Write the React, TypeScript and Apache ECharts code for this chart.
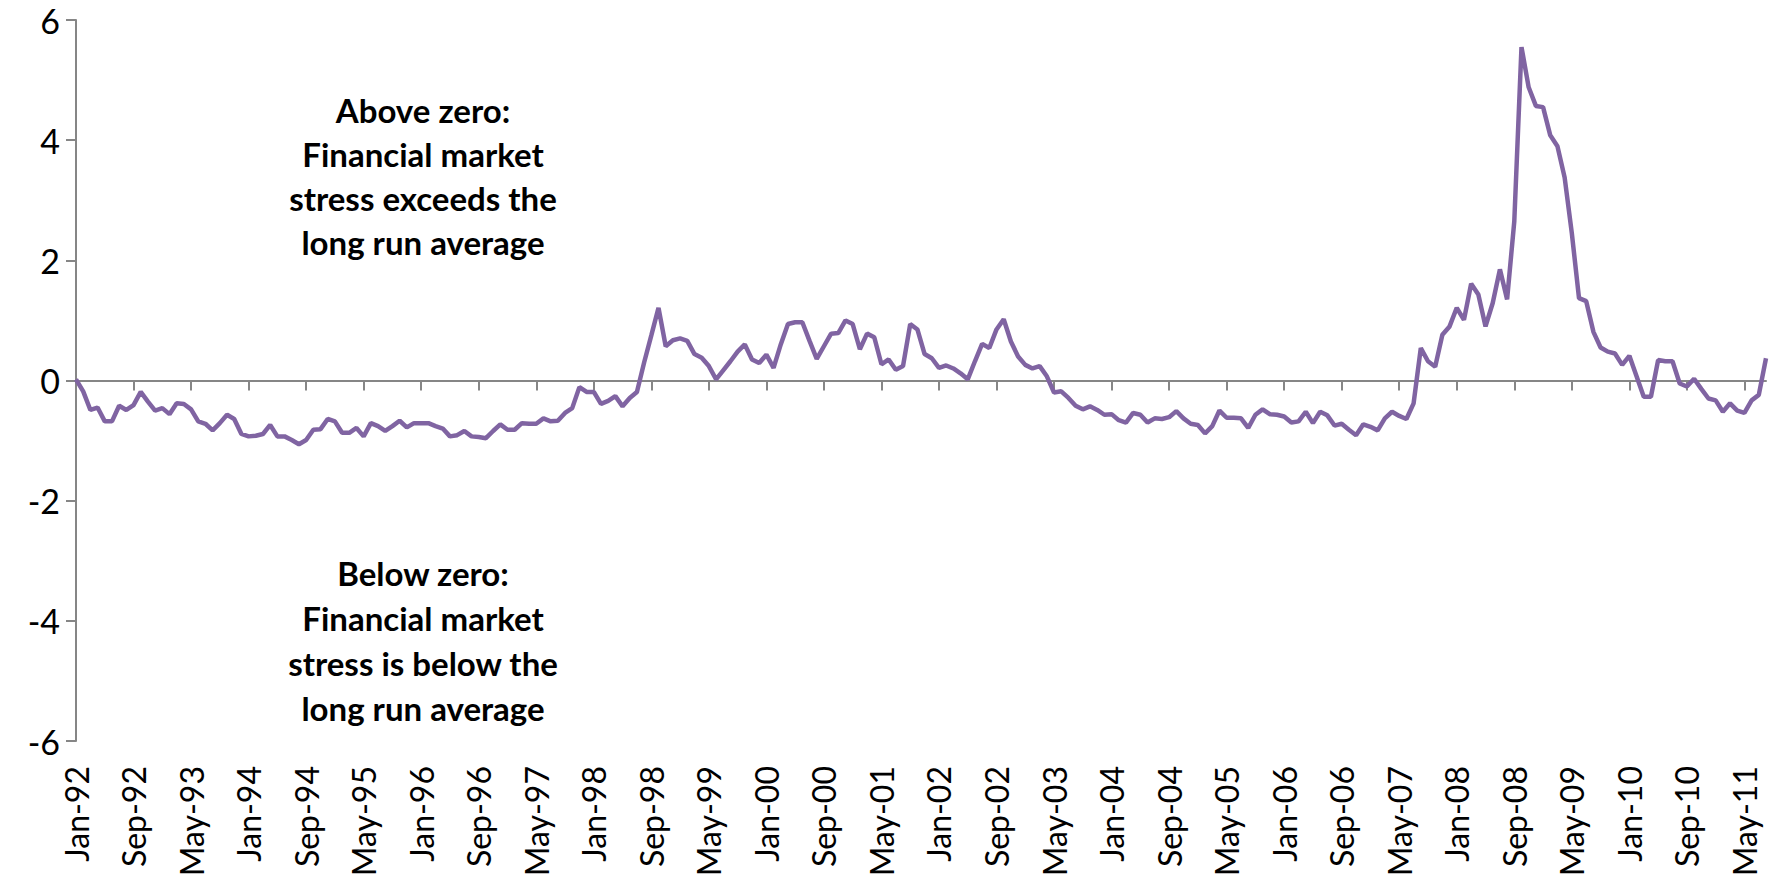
import React, { useEffect, useRef } from "react";
import * as echarts from "echarts";

// Monthly categories Jan-92 .. Aug-11
const MONTH_NAMES = ["Jan", "Feb", "Mar", "Apr", "May", "Jun", "Jul", "Aug", "Sep", "Oct", "Nov", "Dec"];
const START_YEAR = 1992;
const MONTH_COUNT = 236;

// Financial stress index values
const stress1992to1995 = [
  0.02, -0.18, -0.49, -0.45, -0.68, -0.68, -0.42, -0.49, -0.41, -0.19, -0.35, -0.5,
  -0.46, -0.56, -0.38, -0.39, -0.48, -0.68, -0.72, -0.83, -0.71, -0.57, -0.64, -0.89,
  -0.93, -0.92, -0.89, -0.74, -0.93, -0.93, -0.99, -1.06, -0.99, -0.82, -0.81, -0.64,
  -0.68, -0.87, -0.87, -0.79, -0.93, -0.71, -0.76, -0.84, -0.76, -0.67, -0.78, -0.71,
];
const stress1996to1999 = [
  -0.71, -0.71, -0.76, -0.8, -0.93, -0.91, -0.84, -0.93, -0.94, -0.96, -0.84, -0.73,
  -0.82, -0.82, -0.71, -0.72, -0.72, -0.63, -0.68, -0.67, -0.54, -0.46, -0.11, -0.19,
  -0.19, -0.39, -0.34, -0.26, -0.43, -0.29, -0.19, 0.3, 0.75, 1.21, 0.57, 0.67,
  0.7, 0.66, 0.44, 0.38, 0.24, 0.02, 0.17, 0.32, 0.48, 0.6, 0.35, 0.29,
];
const stress2000to2003 = [
  0.43, 0.21, 0.6, 0.94, 0.97, 0.97, 0.66, 0.36, 0.57, 0.78, 0.79, 1.0,
  0.94, 0.52, 0.78, 0.72, 0.27, 0.35, 0.18, 0.24, 0.94, 0.85, 0.44, 0.37,
  0.21, 0.25, 0.2, 0.12, 0.02, 0.32, 0.61, 0.54, 0.85, 1.02, 0.65, 0.4,
  0.26, 0.2, 0.24, 0.07, -0.2, -0.18, -0.29, -0.42, -0.48, -0.43, -0.49, -0.57,
];
const stress2004to2007 = [
  -0.56, -0.66, -0.7, -0.54, -0.57, -0.7, -0.63, -0.64, -0.61, -0.51, -0.63, -0.72,
  -0.74, -0.88, -0.76, -0.5, -0.62, -0.62, -0.63, -0.79, -0.57, -0.48, -0.56, -0.57,
  -0.6, -0.7, -0.68, -0.52, -0.71, -0.52, -0.58, -0.75, -0.72, -0.82, -0.91, -0.73,
  -0.77, -0.83, -0.63, -0.52, -0.59, -0.64, -0.38, 0.54, 0.32, 0.23, 0.76, 0.9,
];
const stress2008to2011 = [
  1.21, 1.01, 1.61, 1.43, 0.9, 1.29, 1.85, 1.35, 2.65, 5.55, 4.88, 4.57,
  4.55, 4.08, 3.9, 3.38, 2.45, 1.37, 1.32, 0.81, 0.55, 0.48, 0.45, 0.26,
  0.41, 0.07, -0.27, -0.27, 0.34, 0.32, 0.32, -0.05, -0.1, 0.03, -0.14, -0.3,
  -0.33, -0.52, -0.38, -0.5, -0.54, -0.33, -0.24, 0.37,
];

const stressValues = [
  ...stress1992to1995,
  ...stress1996to1999,
  ...stress2000to2003,
  ...stress2004to2007,
  ...stress2008to2011,
];

const categories: string[] = [];
for (let i = 0; i < MONTH_COUNT; i++) {
  const yr = (START_YEAR + Math.floor(i / 12)) % 100;
  categories.push(`${MONTH_NAMES[i % 12]}-${String(yr).padStart(2, "0")}`);
}

const Y_MIN = -6;
const Y_MAX = 6;
const Y_STEP = 2;

const aboveText = ["Above zero:", "Financial market", "stress exceeds the", "long run average"];
const belowText = ["Below zero:", "Financial market", "stress is below the", "long run average"];

export default function App() {
  const ref = useRef<HTMLDivElement>(null);

  useEffect(() => {
    if (!ref.current) return;
    const chart = echarts.init(ref.current, undefined, { renderer: "svg" });
    const axisGray = "#868686";
    const font = "Lato, 'Open Sans', sans-serif";
    chart.setOption({
      animation: false,
      backgroundColor: "#ffffff",
      grid: {
        left: 76,
        right: 16,
        top: 20,
        bottom: 141,
        containLabel: false,
        outerBoundsMode: "none",
      },
      xAxis: [
        {
          type: "category",
          data: categories,
          boundaryGap: false,
          position: "bottom",
          axisLine: { show: true, onZero: true, lineStyle: { color: axisGray, width: 2 } },
          axisTick: { show: true, interval: 7, length: 10, lineStyle: { color: axisGray, width: 2 } },
          axisLabel: { show: false },
          splitLine: { show: false },
        },
        {
          type: "category",
          data: categories,
          boundaryGap: false,
          position: "bottom",
          axisLine: { show: false, onZero: false },
          axisTick: { show: false },
          axisLabel: {
            show: true,
            interval: 7,
            rotate: 90,
            margin: 25,
            fontSize: 32,
            color: "#000",
            fontFamily: font,
          },
          splitLine: { show: false },
        },
      ],
      yAxis: {
        type: "value",
        min: Y_MIN,
        max: Y_MAX,
        interval: Y_STEP,
        axisLine: { show: true, lineStyle: { color: axisGray, width: 2 } },
        axisTick: { show: true, length: 10, lineStyle: { color: axisGray, width: 2 } },
        axisLabel: { fontSize: 34, color: "#000", margin: 16, fontFamily: font },
        splitLine: { show: false },
      },
      graphic: [
        {
          type: "text",
          x: 423,
          y: 88,
          style: {
            text: aboveText.join("\n"),
            font: `bold 33px ${font}`,
            fill: "#000",
            align: "center",
            verticalAlign: "top",
            lineHeight: 44,
          },
        },
        {
          type: "text",
          x: 423,
          y: 550,
          style: {
            text: belowText.join("\n"),
            font: `bold 33px ${font}`,
            fill: "#000",
            align: "center",
            verticalAlign: "top",
            lineHeight: 45,
          },
        },
      ],
      series: [
        {
          type: "line",
          data: stressValues,
          xAxisIndex: 0,
          yAxisIndex: 0,
          symbol: "none",
          lineStyle: { color: "#8064A2", width: 4.5 },
        },
      ],
    });
    return () => chart.dispose();
  }, []);

  return (
    <div
      ref={ref}
      style={{ position: "absolute", left: 0, top: 0, width: "1782px", height: "882px" }}
    />
  );
}
